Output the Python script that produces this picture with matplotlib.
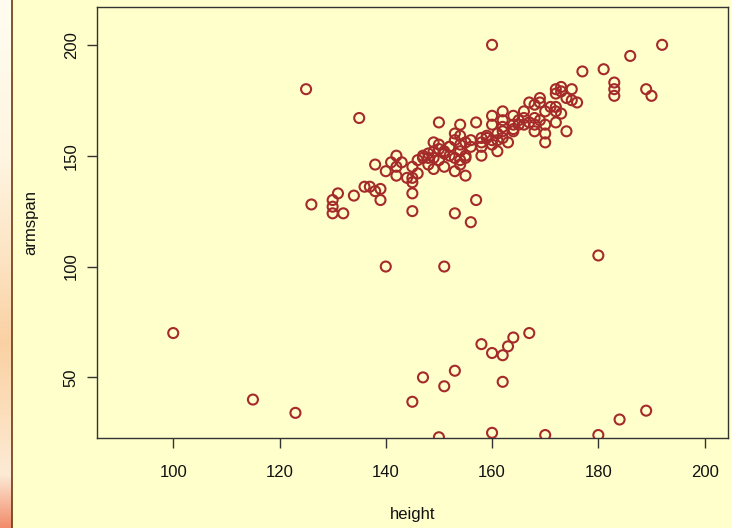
import numpy as np
import matplotlib
matplotlib.use("Agg")
import matplotlib.pyplot as plt

plt.rcParams['font.family'] = ['Liberation Sans', 'DejaVu Sans']

# Sparse / outlying observations
height_a = [100, 115, 123, 125, 126, 135, 140, 145, 147, 150, 151, 151, 153, 153,
            156, 157, 158, 160, 162, 163, 164, 167, 162, 160, 170, 180, 184, 189,
            180, 160, 192, 186, 181, 177, 183, 183, 183, 189, 190, 174]
armspan_a = [70, 40, 34, 180, 128, 167, 100, 39, 50, 23, 100, 46, 53, 124,
             120, 130, 65, 61, 60, 64, 68, 70, 48, 25, 24, 24, 31, 35,
             105, 200, 200, 195, 189, 188, 183, 180, 177, 180, 177, 161]

# Lower part of the main cloud
height_b = [130, 131, 130, 130, 132, 134, 136, 137, 138, 139, 139, 138, 140, 141,
            142, 142, 143, 142, 144, 145, 145, 145, 145, 146, 145]
armspan_b = [130, 133, 127, 124, 124, 132, 136, 136, 134, 135, 130, 146, 143, 147,
             150, 145, 147, 141, 140, 138, 133, 125, 145, 142, 140]

# Middle of the main cloud
height_c = [147, 146, 148, 149, 148, 149, 151, 149, 150, 151, 151, 152, 153, 154,
            154, 154, 153, 155, 155, 155, 156, 158, 158, 159, 160, 161, 161, 162,
            163, 164, 165, 166, 169, 150, 154, 157, 160, 162, 164, 160, 162, 162,
            164, 164, 153, 152, 154, 156, 158, 160, 161, 162, 159, 158, 149, 154,
            153, 155, 150, 152, 147, 148, 150]
armspan_c = [149, 148, 149, 149, 146, 144, 145, 156, 155, 152, 151, 154, 160, 159,
             148, 146, 143, 141, 150, 156, 157, 156, 150, 158, 157, 152, 160, 163,
             156, 161, 164, 167, 166, 165, 164, 165, 168, 170, 168, 164, 166, 161,
             164, 162, 157, 154, 152, 154, 154, 155, 157, 158, 159, 158, 152, 155,
             149, 149, 153, 150, 150, 151, 148]

# Upper part of the main cloud
height_d = [167, 168, 167, 168, 168, 170, 170, 170, 172, 173, 172, 172, 173, 172,
            172, 173, 175, 174, 175, 176, 169, 169, 166, 168, 170, 171, 166, 165]
armspan_d = [174, 173, 165, 164, 161, 156, 160, 164, 165, 169, 170, 172, 181, 180,
             178, 179, 180, 176, 175, 174, 176, 174, 164, 167, 170, 172, 170, 166]

height = height_a + height_b + height_c + height_d
armspan = armspan_a + armspan_b + armspan_c + armspan_d

x_ticks = [100, 120, 140, 160, 180, 200]
y_ticks = [50, 100, 150, 200]

bg = '#FFFFCC'
fig = plt.figure(figsize=(7.31, 5.28), dpi=100, facecolor=bg)

# decorative left strip (gradient)
strip = fig.add_axes([0, 0, 12 / 731, 1])
cols = np.array([
    [1.00, 0.99, 0.94],
    [1.00, 0.96, 0.88],
    [0.99, 0.89, 0.76],
    [0.98, 0.82, 0.64],
    [0.99, 0.88, 0.75],
    [0.99, 0.92, 0.84],
    [0.95, 0.55, 0.42],
])
pos = np.array([0, 0.3, 0.5, 0.65, 0.8, 0.9, 1.0])
t = np.linspace(0, 1, 300)
grad = np.stack([np.interp(t, pos, cols[:, k]) for k in range(3)], axis=-1)
strip.imshow(grad[:, None, :], aspect='auto', extent=[0, 1, 1, 0])
strip.set_axis_off()
fig.add_artist(plt.Line2D([12 / 731, 12 / 731], [0, 1], color='#6B3A10', lw=1.2,
                          transform=fig.transFigure))

ax = fig.add_axes([96.7 / 731, 1 - 437.7 / 528, (728 - 96.7) / 731, (437.7 - 6.7) / 528])
ax.set_facecolor(bg)
ax.scatter(height, armspan, s=52, facecolors='none', edgecolors='#A52A2A',
           linewidths=1.5, zorder=3)
ax.set_xlim(85.6, 204.4)
ax.set_ylim(22.8, 217.2)
ax.set_xticks(x_ticks)
ax.set_yticks(y_ticks)
ax.set_yticklabels([str(v) for v in y_ticks], rotation=90, va='center')
ax.tick_params(axis='both', length=7, width=1, color='#333333', labelsize=12,
               labelcolor='#111111')
ax.tick_params(axis='x', pad=13)
ax.tick_params(axis='y', pad=6)
for s in ax.spines.values():
    s.set_color('#333333')
    s.set_linewidth(1)
ax.set_xlabel('height', fontsize=12, labelpad=19, color='#111111')
ax.set_ylabel('armspan', fontsize=12, labelpad=18, color='#111111')

fig.savefig('out.png', dpi=100, facecolor=bg)
